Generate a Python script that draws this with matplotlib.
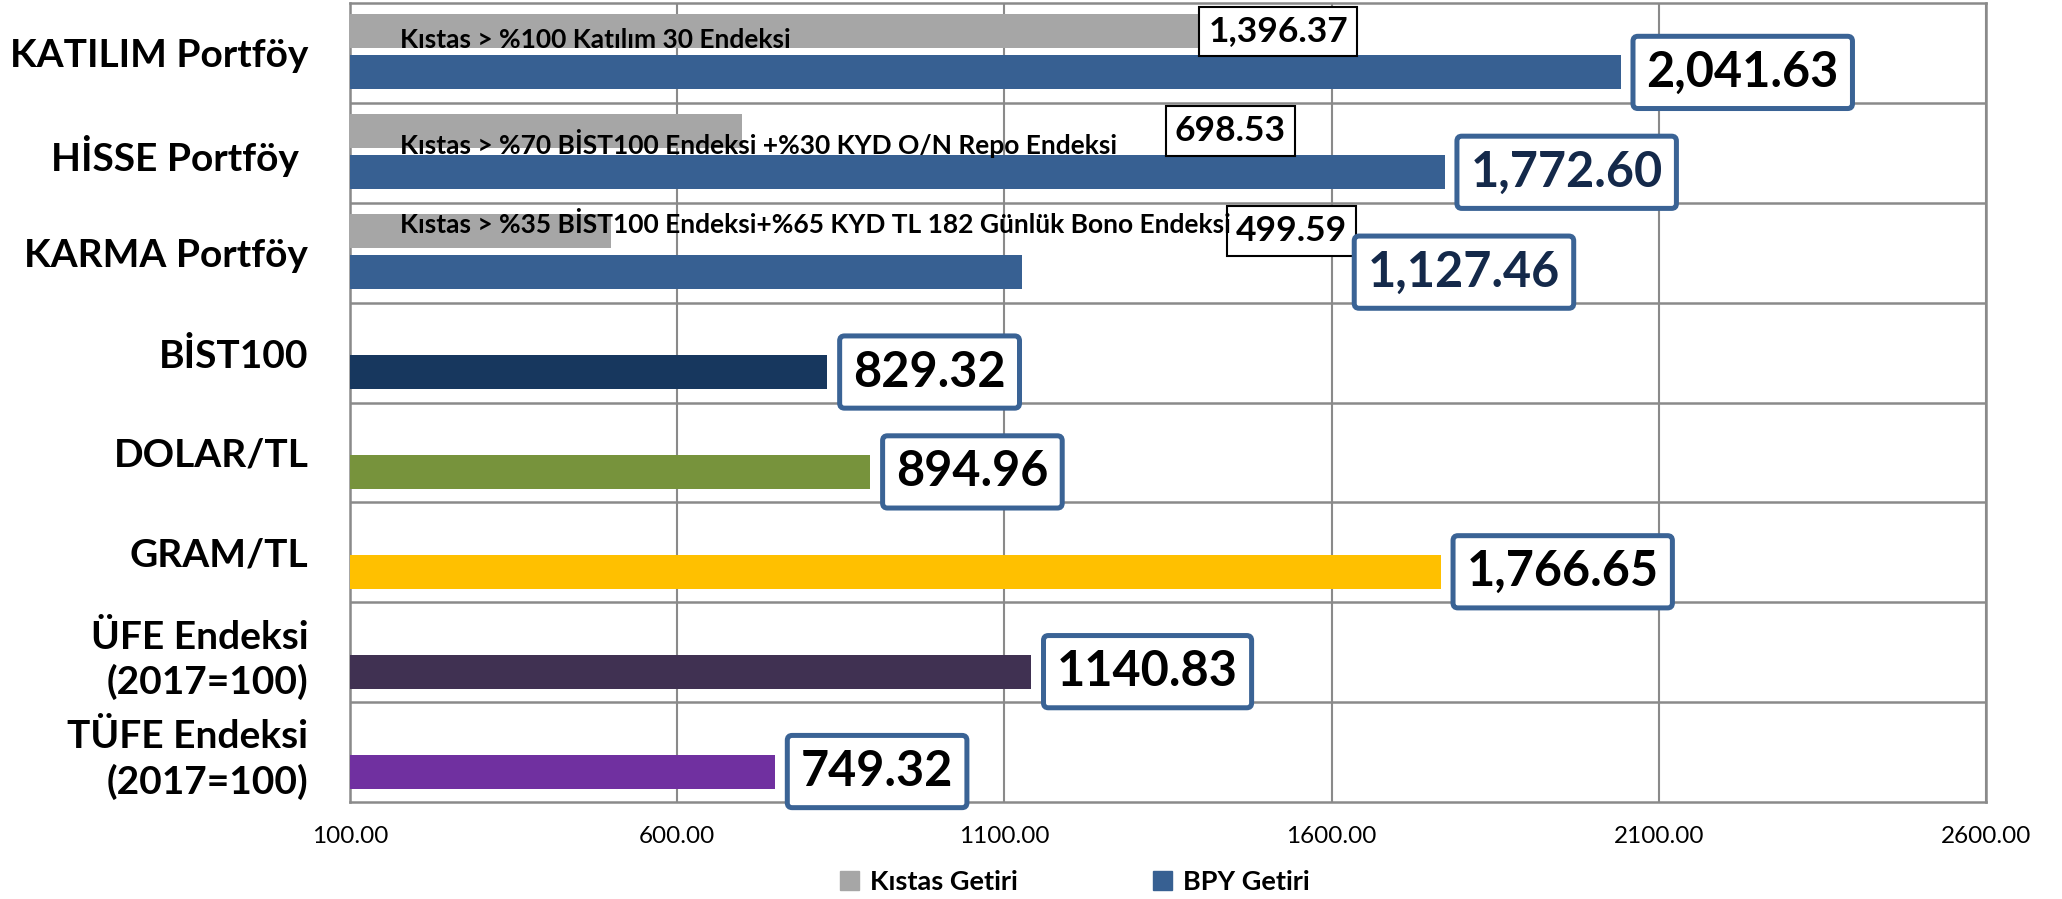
import matplotlib
matplotlib.use("Agg")
import matplotlib.pyplot as plt
from matplotlib.patches import Patch

plt.rcParams['font.family'] = ['Lato', 'DejaVu Sans']

# data
categories = ['KATILIM Portföy', 'HİSSE Portföy ', 'KARMA Portföy', 'BİST100', 'DOLAR/TL',
              'GRAM/TL', 'ÜFE Endeksi\n(2017=100)', 'TÜFE Endeksi\n(2017=100)']
bpy_values = [2041.63, 1772.60, 1127.46, 829.32, 894.96, 1766.65, 1140.83, 749.32]
bpy_labels = ['2,041.63', '1,772.60', '1,127.46', '829.32', '894.96', '1,766.65', '1140.83', '749.32']
kistas_values = [1396.37, 698.53, 499.59]
kistas_labels = ['1,396.37', '698.53', '499.59']
kistas_names = ['Kıstas > %100 Katılım 30 Endeksi',
                'Kıstas > %70 BİST100 Endeksi +%30 KYD O/N Repo Endeksi',
                'Kıstas > %35 BİST100 Endeksi+%65 KYD TL 182 Günlük Bono Endeksi']
x_ticks = [100, 600, 1100, 1600, 2100, 2600]
legend_names = ['Kıstas Getiri', 'BPY Getiri']

# styling
bar_colors = ['#376092', '#376092', '#376092', '#17375E', '#77933C', '#FFC000', '#403152', '#7030A0']
kistas_color = '#A6A6A6'
box_blue = '#3A6395'
navy_text = '#14294A'
label_colors = ['black', navy_text, navy_text, 'black', 'black', 'black', 'black', 'black']
grid_color = '#8A8A8A'
base = 100
bar_h = 0.34
gray_off = -0.215
blue_off = 0.195

# hand-placed label positions (as in the original sheet)
bpy_label_x = [None, None, 1634, None, None, None, None, None]
kistas_label_x = [None, 1345, 1439]
kistas_name_x = 176
kistas_name_y = [-0.05, 1.01, 1.80]

fig = plt.figure(figsize=(20.62, 8.99), dpi=100)
ax = fig.add_axes([350 / 2062, 97 / 899, 1636 / 2062, 799 / 899])

ys = list(range(len(categories)))

for i, v in enumerate(bpy_values):
    ax.barh(i + blue_off, v - base, left=base, height=bar_h, color=bar_colors[i], zorder=3)

for i, v in enumerate(kistas_values):
    ax.barh(i + gray_off, v - base, left=base, height=bar_h, color=kistas_color, zorder=3)

# big data labels
for i, v in enumerate(bpy_values):
    if bpy_label_x[i] is None:
        xy, off = (v, i + blue_off), 26
    else:
        xy, off = (bpy_label_x[i], i + blue_off), 14
    ax.annotate(bpy_labels[i], xy=xy, xytext=(off, 0), textcoords='offset pixels',
                ha='left', va='center', fontsize=35, fontweight='bold', color=label_colors[i],
                bbox=dict(boxstyle='round,pad=0.28,rounding_size=0.1', fc='white', ec=box_blue, lw=3.6),
                zorder=6)

# small benchmark labels
for i, v in enumerate(kistas_values):
    x0 = v if kistas_label_x[i] is None else kistas_label_x[i]
    ax.annotate(kistas_labels[i], xy=(x0, i + gray_off), xytext=(10, 0), textcoords='offset pixels',
                ha='left', va='center', fontsize=25.5, fontweight='bold', color='black',
                bbox=dict(boxstyle='square,pad=0.25', fc='white', ec='black', lw=1.5),
                zorder=5)

# benchmark descriptions
for i, name in enumerate(kistas_names):
    ax.text(kistas_name_x, kistas_name_y[i], name, ha='left', va='baseline',
            fontsize=19, fontweight='bold', color='black', zorder=7)

ax.set_xlim(x_ticks[0], x_ticks[-1])
ax.set_ylim(len(categories) - 0.5, -0.5)
ax.set_xticks(x_ticks)
ax.set_xticklabels([f'{t:.2f}' for t in x_ticks], fontsize=17.5)
ax.set_yticks(ys)
ax.set_yticklabels(categories, fontsize=28, fontweight='bold', linespacing=1.3)
ax.set_yticks([y + 0.5 for y in ys[:-1]], minor=True)
ax.tick_params(axis='both', which='both', length=0)
ax.tick_params(axis='y', pad=30)
ax.tick_params(axis='x', pad=17)

ax.grid(axis='x', which='major', color=grid_color, lw=1.5, zorder=0)
ax.grid(axis='y', which='minor', color=grid_color, lw=1.8, zorder=0)
for s in ax.spines.values():
    s.set_color(grid_color)
    s.set_linewidth(1.8)

handles = [Patch(color=kistas_color), Patch(color=bar_colors[0])]
fig.legend(handles, legend_names, loc='center', bbox_to_anchor=(1075 / 2062, 17 / 899),
           ncol=2, frameon=False, prop={'weight': 'bold', 'size': 19.5},
           handlelength=0.7, handleheight=0.7, handletextpad=0.4, columnspacing=5.0,
           borderpad=0)

fig.savefig('out.png', dpi=100)
